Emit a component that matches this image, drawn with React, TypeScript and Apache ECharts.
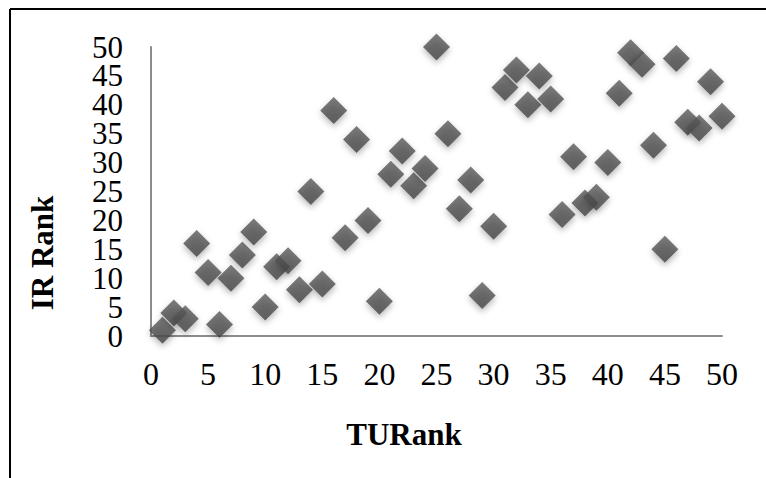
import React, { useEffect, useRef } from "react";
import * as echarts from "echarts";

const tuRank: number[] = [
  1, 2, 3, 4, 5, 6, 7, 8, 9, 10, 11, 12, 13, 14, 15, 16, 17, 18, 19, 20, 21, 22, 23, 24, 25,
  26, 27, 28, 29, 30, 31, 32, 33, 34, 35, 36, 37, 38, 39, 40, 41, 42, 43, 44, 45, 46, 47, 48, 49, 50,
];
const irRank: number[] = [
  1, 4, 3, 16, 11, 2, 10, 14, 18, 5, 12, 13, 8, 25, 9, 39, 17, 34, 20, 6, 28, 32, 26, 29, 50,
  35, 22, 27, 7, 19, 43, 46, 40, 45, 41, 21, 31, 23, 24, 30, 42, 49, 47, 33, 15, 48, 37, 36, 44, 38,
];
const xTicks = { min: 0, max: 50, interval: 5 };
const yTicks = { min: 0, max: 50, interval: 5 };
const xTitle = "TURank";
const yTitle = "IR Rank";

const FONT = '"Liberation Serif", "Times New Roman", serif';

export default function App() {
  const ref = useRef<HTMLDivElement>(null);
  useEffect(() => {
    if (!ref.current) return;
    const chart = echarts.init(ref.current, null, { renderer: "svg" });
    const data = tuRank.map((x, i) => [x, irRank[i]]);
    const yLabelBase = {
      fontFamily: FONT,
      fontSize: 31,
      lineHeight: 26,
      color: "#000",
      margin: 28,
      showMinLabel: true,
      showMaxLabel: true,
      hideOverlap: false,
    };
    const yAxisBase = {
      type: "value",
      min: yTicks.min,
      max: yTicks.max,
      interval: yTicks.interval,
      position: "left",
      axisTick: { show: false },
      splitLine: { show: false },
    };
    chart.setOption({
      animation: false,
      backgroundColor: "#ffffff",
      grid: { left: 151, right: 44, top: 47, bottom: 142 },
      xAxis: {
        type: "value",
        min: xTicks.min,
        max: xTicks.max,
        interval: xTicks.interval,
        axisLine: { show: true, onZero: false, lineStyle: { color: "#8c8c8c", width: 2 } },
        axisTick: { show: false },
        splitLine: { show: false },
        axisLabel: {
          fontFamily: FONT,
          fontSize: 32,
          color: "#000",
          margin: 22,
          showMinLabel: true,
          showMaxLabel: true,
          hideOverlap: false,
        },
      },
      yAxis: [
        {
          ...yAxisBase,
          axisLine: { show: true, onZero: false, lineStyle: { color: "#8c8c8c", width: 2 } },
          axisLabel: {
            ...yLabelBase,
            formatter: (v: number) => (v % (yTicks.interval * 2) === 0 ? String(v) : ""),
          },
        },
        {
          ...yAxisBase,
          offset: 0,
          axisLine: { show: false, onZero: false },
          axisLabel: {
            ...yLabelBase,
            formatter: (v: number) => (v % (yTicks.interval * 2) !== 0 ? String(v) : ""),
          },
        },
      ],
      series: [
        {
          type: "scatter",
          yAxisIndex: 0,
          data,
          symbol: "diamond",
          symbolSize: 27,
          itemStyle: {
            color: new echarts.graphic.LinearGradient(0, 0, 0, 1, [
              { offset: 0, color: "#5c5c5c" },
              { offset: 1, color: "#434343" },
            ]),
            shadowColor: "rgba(0,0,0,0.35)",
            shadowBlur: 6,
            shadowOffsetY: 3,
          },
        },
      ],
      graphic: [
        { type: "line", shape: { x1: 10, y1: 9, x2: 766, y2: 9 }, style: { stroke: "#000", lineWidth: 2 } },
        { type: "line", shape: { x1: 10, y1: 9, x2: 10, y2: 478 }, style: { stroke: "#000", lineWidth: 2 } },
        {
          type: "text",
          x: 42,
          y: 253,
          rotation: Math.PI / 2,
          style: {
            text: yTitle,
            fontFamily: FONT,
            fontSize: 31,
            fontWeight: "bold",
            fill: "#000",
            textAlign: "center",
            textVerticalAlign: "middle",
          },
        },
        {
          type: "text",
          x: 404,
          y: 434,
          style: {
            text: xTitle,
            fontFamily: FONT,
            fontSize: 31,
            fontWeight: "bold",
            fill: "#000",
            textAlign: "center",
            textVerticalAlign: "middle",
          },
        },
      ],
    });
    return () => chart.dispose();
  }, []);
  return (
    <div
      ref={ref}
      style={{ position: "fixed", left: 0, top: 0, width: 766, height: 478 }}
    />
  );
}
